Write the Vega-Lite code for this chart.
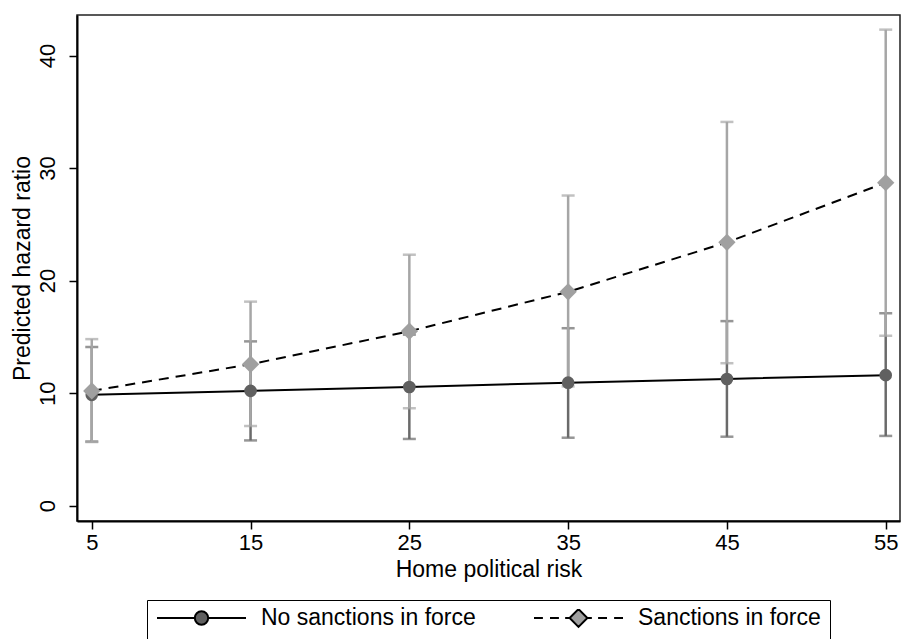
{
  "$schema": "https://vega.github.io/schema/vega-lite/v6.json",
  "autosize": {"type": "none"},
  "padding": {"left": 77, "top": 15, "right": 1, "bottom": 118},
  "width": 823,
  "height": 506,
  "background": "white",
  "config": {
    "view": {"stroke": "#222222", "strokeWidth": 1.5},
    "font": "Liberation Sans",
    "legend": {
      "layout": {"bottom": {"anchor": "middle"}},
      "orient": "bottom", "direction": "horizontal",
      "labelFontSize": 23, "labelColor": "black", "labelOffset": 14, "labelLimit": 0,
      "symbolSize": 7921, "symbolStrokeWidth": 2, "symbolOpacity": 1,
      "clipHeight": 18,
      "strokeColor": "black", "padding": 9, "columnPadding": 57, "offset": 19
    }
  },
  "data": {
    "values": [
      {"risk": 5, "series": "No sanctions in force", "hr": 9.85, "lo": 5.7, "hi": 14.1},
      {"risk": 15, "series": "No sanctions in force", "hr": 10.2, "lo": 5.8, "hi": 14.6},
      {"risk": 25, "series": "No sanctions in force", "hr": 10.55, "lo": 5.93, "hi": 15.2},
      {"risk": 35, "series": "No sanctions in force", "hr": 10.93, "lo": 6.04, "hi": 15.77},
      {"risk": 45, "series": "No sanctions in force", "hr": 11.26, "lo": 6.13, "hi": 16.4},
      {"risk": 55, "series": "No sanctions in force", "hr": 11.6, "lo": 6.2, "hi": 17.1},
      {"risk": 5, "series": "Sanctions in force", "hr": 10.2, "lo": 5.66, "hi": 14.8},
      {"risk": 15, "series": "Sanctions in force", "hr": 12.57, "lo": 7.08, "hi": 18.13},
      {"risk": 25, "series": "Sanctions in force", "hr": 15.5, "lo": 8.66, "hi": 22.3},
      {"risk": 35, "series": "Sanctions in force", "hr": 19.0, "lo": 10.6, "hi": 27.56},
      {"risk": 45, "series": "Sanctions in force", "hr": 23.4, "lo": 12.66, "hi": 34.1},
      {"risk": 55, "series": "Sanctions in force", "hr": 28.7, "lo": 15.1, "hi": 42.3}
    ]
  },
  "encoding": {
    "x": {
      "field": "risk", "type": "quantitative",
      "scale": {"domain": [4.07, 55.9], "nice": false, "zero": false},
      "axis": {
        "values": [5, 15, 25, 35, 45, 55], "title": "Home political risk",
        "grid": false, "domainColor": "black", "domainWidth": 2,
        "tickColor": "black", "tickSize": 8, "tickWidth": 1.5,
        "labelFontSize": 22, "labelColor": "black", "labelPadding": 3,
        "titleFontSize": 23, "titleFontWeight": "normal", "titleColor": "black", "titlePadding": 5
      }
    }
  },
  "layer": [
    {
      "mark": {"type": "point", "filled": true, "opacity": 0, "size": 160, "strokeWidth": 2},
      "encoding": {
        "y": {
          "field": "hr", "type": "quantitative",
          "scale": {"domain": [-1.36, 43.6], "nice": false, "zero": false},
          "axis": {
            "values": [0, 10, 20, 30, 40], "title": "Predicted hazard ratio",
            "grid": false, "domainColor": "black", "domainWidth": 2,
            "tickColor": "black", "tickSize": 8, "tickWidth": 1.5,
            "labelFontSize": 22, "labelColor": "black", "labelAngle": -90,
            "labelAlign": "center", "labelBaseline": "bottom", "labelPadding": 10,
            "titleFontSize": 23, "titleFontWeight": "normal", "titleColor": "black", "titlePadding": 2
          }
        },
        "fill": {
          "field": "series", "type": "nominal", "title": null,
          "scale": {"domain": ["No sanctions in force", "Sanctions in force"], "range": ["#606060", "#a0a0a0"]},
          "legend": {"title": null}
        },
        "stroke": {
          "field": "series", "type": "nominal", "title": null,
          "scale": {"domain": ["No sanctions in force", "Sanctions in force"], "range": ["black", "black"]},
          "legend": {"title": null}
        },
        "shape": {
          "field": "series", "type": "nominal", "title": null,
          "scale": {
            "domain": ["No sanctions in force", "Sanctions in force"],
            "range": [
              "M-1,0L-0.15,0M0.15,0L1,0M-0.15,0A0.15,0.15,0,1,0,0.15,0A0.15,0.15,0,1,0,-0.15,0Z",
              "M-1,0L-0.8,0M-0.64,0L-0.44,0M-0.3,0L-0.2,0M0.2,0L0.3,0M0.44,0L0.64,0M0.8,0L1,0M-0.2,0L0,-0.2L0.2,0L0,0.2Z"
            ]
          },
          "legend": {"title": null}
        }
      }
    },
    {
      "transform": [{"filter": "datum.series === 'No sanctions in force'"}],
      "mark": {"type": "rule", "strokeWidth": 2.5, "color": "#6a6a6a"},
      "encoding": {
        "y": {"field": "lo", "type": "quantitative"},
        "y2": {"field": "hi"}
      }
    },
    {
      "transform": [{"filter": "datum.series === 'No sanctions in force'"}, {"fold": ["lo", "hi"], "as": ["bound", "val"]}],
      "mark": {"type": "tick", "orient": "horizontal", "size": 13, "thickness": 2.5, "color": "#6a6a6a"},
      "encoding": {
        "y": {"field": "val", "type": "quantitative"}
      }
    },
    {
      "transform": [{"filter": "datum.series === 'Sanctions in force'"}],
      "mark": {"type": "rule", "strokeWidth": 2.5, "color": "#a6a6a6"},
      "encoding": {
        "y": {"field": "lo", "type": "quantitative"},
        "y2": {"field": "hi"}
      }
    },
    {
      "transform": [{"filter": "datum.series === 'Sanctions in force'"}, {"fold": ["lo", "hi"], "as": ["bound", "val"]}],
      "mark": {"type": "tick", "orient": "horizontal", "size": 13, "thickness": 2.5, "color": "#a6a6a6"},
      "encoding": {
        "y": {"field": "val", "type": "quantitative"}
      }
    },
    {
      "transform": [{"filter": "datum.series === 'No sanctions in force'"}],
      "mark": {"type": "line", "color": "black", "strokeWidth": 2},
      "encoding": {
        "y": {"field": "hr", "type": "quantitative"}
      }
    },
    {
      "transform": [{"filter": "datum.series === 'Sanctions in force'"}],
      "mark": {"type": "line", "color": "black", "strokeWidth": 2, "strokeDash": [10, 7]},
      "encoding": {
        "y": {"field": "hr", "type": "quantitative"}
      }
    },
    {
      "transform": [{"filter": "datum.series === 'No sanctions in force'"}],
      "mark": {"type": "point", "filled": true, "opacity": 1, "shape": "circle", "size": 160, "color": "#606060"},
      "encoding": {
        "y": {"field": "hr", "type": "quantitative"}
      }
    },
    {
      "transform": [{"filter": "datum.series === 'Sanctions in force'"}],
      "mark": {"type": "point", "filled": true, "opacity": 1, "shape": "diamond", "size": 300, "color": "#a0a0a0"},
      "encoding": {
        "y": {"field": "hr", "type": "quantitative"}
      }
    }
  ]
}
